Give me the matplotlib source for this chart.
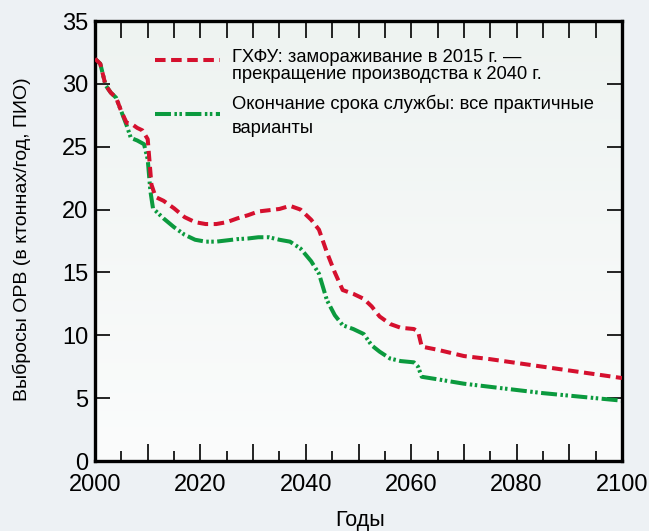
import numpy as np
import matplotlib.pyplot as plt
from matplotlib.ticker import MultipleLocator, FuncFormatter
from matplotlib.colors import LinearSegmentedColormap

plt.rcParams['lines.scale_dashes'] = False
plt.rcParams['font.family'] = ['Liberation Sans', 'DejaVu Sans']

# emissions, ktonnes/yr ODP
years_red = [2000, 2001, 2002, 2003, 2004, 2005, 2006, 2007, 2008, 2009, 2010, 2010.7, 2011.5,
             2013, 2015, 2017, 2019, 2021, 2023, 2025, 2027, 2029, 2031, 2033, 2035, 2037, 2039,
             2041, 2042.5, 2044, 2045.5, 2047, 2049, 2051, 2052.5, 2054, 2056, 2058, 2060.5,
             2061.3, 2062, 2065, 2070, 2075, 2080, 2085, 2090, 2095, 2100]
vals_red = [32.0, 31.6, 29.9, 29.3, 28.9, 27.8, 26.9, 26.8, 26.5, 26.3, 25.6, 22.0, 21.0,
            20.7, 20.1, 19.4, 19.0, 18.85, 18.85, 19.0, 19.3, 19.55, 19.85, 19.95, 20.05, 20.3, 20.0,
            19.2, 18.4, 16.6, 15.0, 13.6, 13.3, 12.9, 12.3, 11.5, 10.9, 10.6, 10.5,
            10.3, 9.1, 8.85, 8.35, 8.1, 7.8, 7.5, 7.2, 6.9, 6.6]

years_green = [2000, 2001, 2002, 2003, 2004, 2005, 2006, 2006.8, 2008, 2009.3, 2010, 2010.5, 2011,
               2013, 2015, 2017, 2019, 2021, 2023, 2025, 2027, 2029, 2031, 2033, 2035, 2037, 2039,
               2041, 2042.5, 2044, 2045.5, 2047, 2049, 2051, 2052.5, 2054, 2056, 2058, 2060.5,
               2061.3, 2062, 2065, 2070, 2075, 2080, 2085, 2090, 2095, 2100]
vals_green = [32.0, 31.6, 29.9, 29.3, 28.9, 27.8, 26.7, 25.7, 25.5, 25.2, 24.0, 21.5, 20.1,
              19.3, 18.6, 18.0, 17.6, 17.45, 17.45, 17.55, 17.65, 17.7, 17.8, 17.8, 17.6, 17.45, 16.9,
              15.9, 14.9, 12.8, 11.6, 10.8, 10.5, 10.1, 9.2, 8.7, 8.15, 7.95, 7.85,
              7.5, 6.7, 6.5, 6.15, 5.9, 5.65, 5.4, 5.2, 5.0, 4.8]

label_red = 'ГХФУ: замораживание в 2015 г. —\nпрекращение производства к 2040 г.'
label_green = 'Окончание срока службы: все практичные\nварианты'

red = '#d5102e'
green = '#0b9a3e'
red_dash = (7.6, 4.0)
green_dash = (11.5, 2.5, 1.8, 1.8, 1.8, 2.5)

fig = plt.figure(figsize=(6.49, 5.31), dpi=100, facecolor='#edf1f4')
ax = fig.add_axes([0.1464, 0.1318, 0.8120, 0.8286])

# soft gradient inside the plot area
grad = np.linspace(0, 1, 256).reshape(-1, 1)
cmap = LinearSegmentedColormap.from_list('bg', ['#fbfcfc', '#eef3f1'])
ax.imshow(grad, extent=[0, 1, 0, 1], transform=ax.transAxes, cmap=cmap,
          aspect='auto', origin='lower', zorder=0)

ax.plot(years_red, vals_red, color=red, lw=2.9, dashes=red_dash, zorder=3)
ax.plot(years_green, vals_green, color=green, lw=2.9, dashes=green_dash, zorder=2)

ax.set_xlim(2000, 2100)
ax.set_ylim(0, 35)

ax.xaxis.set_major_locator(MultipleLocator(10))
ax.xaxis.set_minor_locator(MultipleLocator(5))
ax.xaxis.set_major_formatter(FuncFormatter(lambda v, p: '%d' % v if v % 20 == 0 else ''))
ax.yaxis.set_major_locator(MultipleLocator(5))
ax.tick_params(axis='x', which='major', direction='in', length=12, width=1.2,
               labelsize=17, pad=9)
ax.tick_params(axis='x', which='minor', direction='in', length=7, width=1.2)
ax.tick_params(axis='y', which='major', direction='in', length=11, width=1.2,
               labelsize=17, right=True, pad=5)

top = ax.secondary_xaxis('top')
top.set_xticks(np.arange(2005, 2100, 5))
top.tick_params(direction='in', length=12, width=1.2, labeltop=False)
top.spines['top'].set_visible(False)

for s in ax.spines.values():
    s.set_linewidth(2.4)

ax.set_ylabel('Выбросы ОРВ (в ктоннах/год, ПИО)', fontsize=14, va='center')
ax.yaxis.set_label_coords(-0.139, 0.505)
ax.set_xlabel('Годы', fontsize=15.5, va='baseline')
ax.xaxis.set_label_coords(0.503, -0.148)

# legend drawn by hand
ax.plot([2011.3, 2023.8], [31.9, 31.9], color=red, lw=2.9, dashes=red_dash)
ax.plot([2011.3, 2023.8], [27.6, 27.6], color=green, lw=2.9, dashes=green_dash)
ax.text(2025.9, 31.45, label_red, fontsize=13.2, va='center', linespacing=0.98)
ax.text(2025.9, 27.45, label_green, fontsize=13.2, va='center', linespacing=1.5)

fig.savefig('out.png', dpi=100, facecolor=fig.get_facecolor())
